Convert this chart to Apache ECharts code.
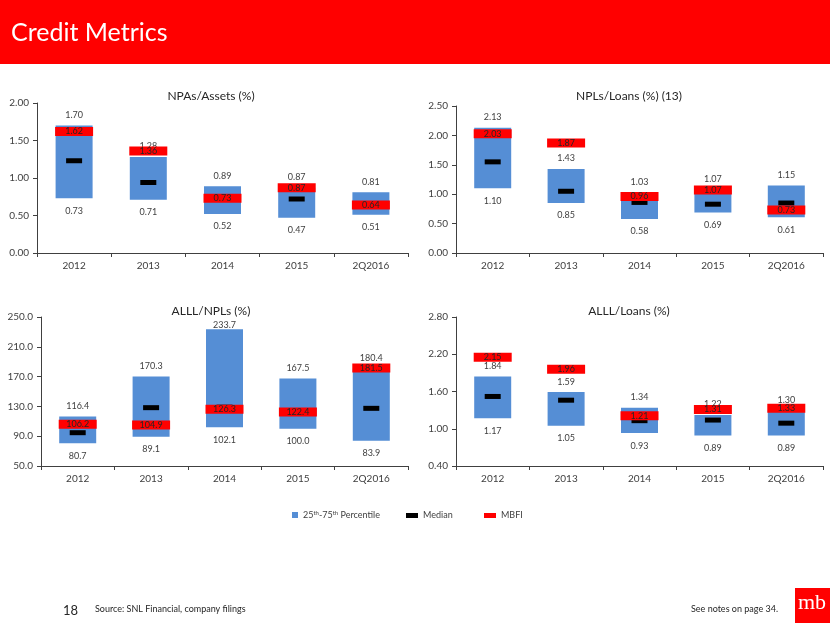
<!DOCTYPE html>
<html><head><meta charset="utf-8">
<script src="https://cdn.jsdelivr.net/npm/echarts@6/dist/echarts.min.js"></script>
<style>html,body{margin:0;padding:0;background:#fff}#c{width:830px;height:623px}</style>
</head><body><div id="c"></div>
<script>
const categories = ['2012', '2013', '2014', '2015', '2Q2016'];

// NPAs/Assets (%)
const npaAssetsP25    = [0.73, 0.71, 0.52, 0.47, 0.51];
const npaAssetsP75    = [1.70, 1.28, 0.89, 0.87, 0.81];
const npaAssetsMedian = [1.23, 0.94, 0.72, 0.72, 0.64];
const npaAssetsMBFI   = [1.62, 1.36, 0.73, 0.87, 0.64];

// NPLs/Loans (%) (13)
const nplLoansP25    = [1.10, 0.85, 0.58, 0.69, 0.61];
const nplLoansP75    = [2.13, 1.43, 1.03, 1.07, 1.15];
const nplLoansMedian = [1.55, 1.05, 0.86, 0.83, 0.85];
const nplLoansMBFI   = [2.03, 1.87, 0.96, 1.07, 0.73];

// ALLL/NPLs (%)
const alllNplP25    = [80.7, 89.1, 102.1, 100.0, 83.9];
const alllNplP75    = [116.4, 170.3, 233.7, 167.5, 180.4];
const alllNplMedian = [94.7, 128.3, 129.0, 122.0, 127.4];
const alllNplMBFI   = [106.2, 104.9, 126.3, 122.4, 181.5];

// ALLL/Loans (%)
const alllLoansP25    = [1.17, 1.05, 0.93, 0.89, 0.89];
const alllLoansP75    = [1.84, 1.59, 1.34, 1.22, 1.30];
const alllLoansMedian = [1.52, 1.46, 1.13, 1.14, 1.09];
const alllLoansMBFI   = [2.15, 1.96, 1.21, 1.31, 1.33];

// axis tick labels
const ticks1 = [0.00, 0.50, 1.00, 1.50, 2.00];
const ticks2 = [0.00, 0.50, 1.00, 1.50, 2.00, 2.50];
const ticks3 = [50.0, 90.0, 130.0, 170.0, 210.0, 250.0];
const ticks4 = [0.40, 1.00, 1.60, 2.20, 2.80];

const panels = [
  {title: 'NPAs/Assets (%)',      p25: npaAssetsP25, p75: npaAssetsP75, med: npaAssetsMedian, mbfi: npaAssetsMBFI, ticks: ticks1, dec: 2},
  {title: 'NPLs/Loans (%) (13)',  p25: nplLoansP25,  p75: nplLoansP75,  med: nplLoansMedian,  mbfi: nplLoansMBFI,  ticks: ticks2, dec: 2},
  {title: 'ALLL/NPLs (%)',        p25: alllNplP25,   p75: alllNplP75,   med: alllNplMedian,   mbfi: alllNplMBFI,   ticks: ticks3, dec: 1},
  {title: 'ALLL/Loans (%)',       p25: alllLoansP25, p75: alllLoansP75, med: alllLoansMedian, mbfi: alllLoansMBFI, ticks: ticks4, dec: 2}
];

const gridPos = [
  {left: 37,  top: 103, width: 371, height: 150},
  {left: 456, top: 106, width: 367, height: 147},
  {left: 41,  top: 317, width: 367, height: 149},
  {left: 456, top: 317, width: 367, height: 149}
];
const titlePos = [
  {x: 206, y: 85}, {x: 624, y: 85}, {x: 206, y: 300}, {x: 624, y: 300}
];

const FONT = 'Lato, "Open Sans", sans-serif';
const BLUE = '#558ED5';
const RED = '#FF0000';
const TXT = '#404040';

const grids = [], xAxes = [], yAxes = [], series = [], titles = [];

panels.forEach((p, i) => {
  grids.push(Object.assign({containLabel: false}, gridPos[i]));
  titles.push({
    text: p.title, left: titlePos[i].x, top: titlePos[i].y, textAlign: 'center',
    textStyle: {fontFamily: FONT, fontSize: 12, fontWeight: 'normal', color: '#262626'}
  });
  xAxes.push({
    type: 'category', gridIndex: i, data: categories,
    axisLine: {lineStyle: {color: '#404040', width: 1}},
    axisTick: {show: true, length: 4, lineStyle: {color: '#404040'}},
    axisLabel: {fontFamily: FONT, fontSize: 10, color: TXT, margin: 8}
  });
  const tk = p.ticks;
  const lo = tk[0], hi = tk[tk.length - 1];
  yAxes.push({
    type: 'value', gridIndex: i, min: lo, max: hi,
    splitLine: {show: false},
    axisLine: {show: true, lineStyle: {color: '#404040', width: 1}},
    axisTick: {show: true, length: 4, lineStyle: {color: '#404040'}, customValues: tk},
    axisLabel: {fontFamily: FONT, fontSize: 10, color: TXT, margin: 8, customValues: tk,
      formatter: v => Number(v).toFixed(p.dec)}
  });
  const st = 'stack' + i;
  series.push({
    name: 'base' + i, type: 'bar', stack: st, xAxisIndex: i, yAxisIndex: i,
    barWidth: 37, silent: true, data: p.p25,
    itemStyle: {color: 'rgba(0,0,0,0)'},
    label: {show: true, position: 'insideTop', distance: 8, fontFamily: FONT, fontSize: 9, color: TXT,
      formatter: d => Number(p.p25[d.dataIndex]).toFixed(p.dec)},
    z: 2
  });
  series.push({
    name: '25th-75th Percentile', type: 'bar', stack: st, xAxisIndex: i, yAxisIndex: i,
    barWidth: 37,
    data: p.p75.map((v, k) => {
      const item = {value: +(v - p.p25[k]).toFixed(3)};
      // labels of boxes reaching near the top of the plot sit closer to the box
      if ((v - lo) / (hi - lo) > 0.9) item.label = {distance: 0};
      return item;
    }),
    itemStyle: {color: BLUE},
    label: {show: true, position: 'top', distance: 6, fontFamily: FONT, fontSize: 9, color: TXT,
      formatter: d => Number(p.p75[d.dataIndex]).toFixed(p.dec)},
    z: 2
  });
  series.push({
    name: 'Median', type: 'scatter', xAxisIndex: i, yAxisIndex: i,
    symbol: 'rect', symbolSize: [16, 5], data: p.med,
    itemStyle: {color: '#000', opacity: 1}, z: 3
  });
  series.push({
    name: 'MBFI', type: 'scatter', xAxisIndex: i, yAxisIndex: i,
    symbol: 'rect', symbolSize: [38, 9], data: p.mbfi,
    itemStyle: {color: RED, opacity: 1}, z: 4,
    label: {show: true, position: 'inside', fontFamily: FONT, fontSize: 9, color: '#262626',
      formatter: d => Number(d.value).toFixed(p.dec)}
  });
});

const legendText = {fontFamily: FONT, fontSize: 9, color: TXT};
const option = {
  animation: false,
  backgroundColor: '#fff',
  title: titles,
  grid: grids,
  xAxis: xAxes,
  yAxis: yAxes,
  series: series,
  legend: [
    {left: 287, top: 505, itemWidth: 6, itemHeight: 6, selectedMode: false,
     data: [{name: '25th-75th Percentile', icon: 'rect'}],
     formatter: () => '25{s|th}-75{s|th} Percentile',
     textStyle: Object.assign({}, legendText, {rich: {s: {fontFamily: FONT, fontSize: 6, color: TXT, verticalAlign: 'top', lineHeight: 10}}})},
    {left: 401, top: 506, itemWidth: 12, itemHeight: 5, selectedMode: false,
     data: [{name: 'Median', icon: 'rect'}], textStyle: legendText},
    {left: 479, top: 506, itemWidth: 12, itemHeight: 5, selectedMode: false,
     data: [{name: 'MBFI', icon: 'rect'}], textStyle: legendText}
  ],
  graphic: [
    {type: 'rect', left: 0, top: 0, shape: {width: 830, height: 64}, style: {fill: RED}, z: 0},
    {type: 'text', left: 11, top: 20, style: {text: 'Credit Metrics', fill: '#fff', font: '25px ' + FONT}},
    {type: 'text', left: 63, top: 604, style: {text: '18', fill: '#262626', font: '13px ' + FONT}},
    {type: 'text', left: 95, top: 605, style: {text: 'Source: SNL Financial, company filings', fill: '#262626', font: '9px ' + FONT}},
    {type: 'text', right: 52, top: 605, style: {text: 'See notes on page 34.', fill: '#262626', font: '9px ' + FONT}},
    {type: 'rect', left: 795, top: 588, shape: {width: 35, height: 35}, style: {fill: RED}},
    {type: 'text', left: 798, top: 592, style: {text: 'mb', fill: '#fff', font: '22px "Liberation Serif", "DejaVu Serif", serif'}}
  ]
};

const chart = echarts.init(document.getElementById('c'), null, {renderer: 'canvas'});
chart.setOption(option);
</script>
</body></html>
